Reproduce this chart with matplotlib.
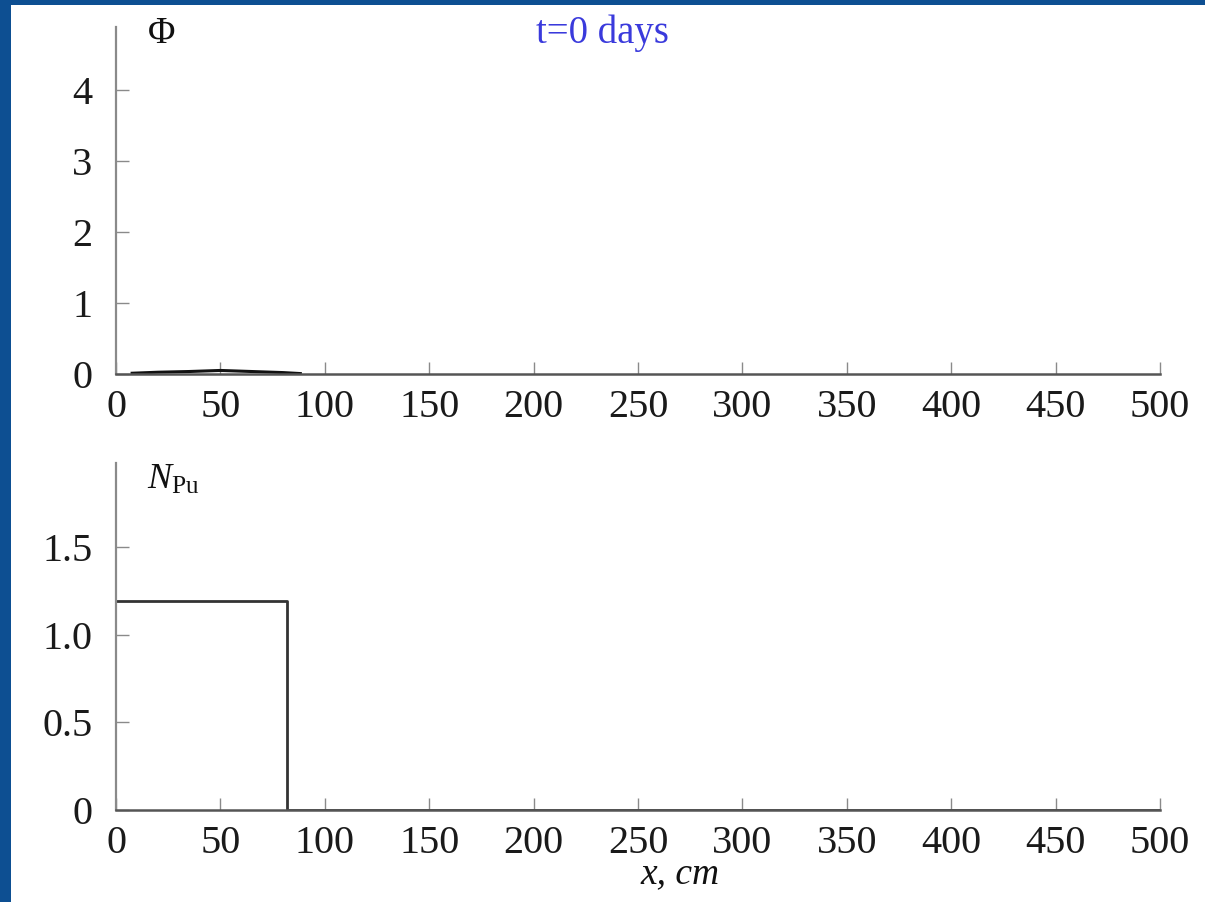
import matplotlib
matplotlib.use("Agg")
import matplotlib.pyplot as plt
from matplotlib.patches import Rectangle

# Neutron flux profile at t = 0 (small seed near the source)
phi_x = [7, 20, 35, 50, 65, 80, 89]
phi_y = [0.01, 0.025, 0.035, 0.05, 0.035, 0.02, 0.005]

# Plutonium concentration: uniform loading up to x = 82 cm
npu_x = [0, 82, 82, 500]
npu_y = [1.19, 1.19, 0.0, 0.0]

x_ticks = [0, 50, 100, 150, 200, 250, 300, 350, 400, 450, 500]
phi_ticks = [0, 1, 2, 3, 4]
npu_ticks = [0, 0.5, 1.0, 1.5]
npu_ticklabels = ["0", "0.5", "1.0", "1.5"]

plt.rcParams["font.family"] = ["Liberation Serif", "DejaVu Serif"]
plt.rcParams["mathtext.fontset"] = "custom"
plt.rcParams["mathtext.rm"] = "Liberation Serif"
plt.rcParams["mathtext.it"] = "Liberation Serif:italic"

W, H = 1205, 902
fig = plt.figure(figsize=(W / 100, H / 100), dpi=100)
fig.patch.set_facecolor("#0d4f92")
# white slide panel behind the plots
panel = Rectangle((11 / W, 0), 1 - 11 / W, 1 - 5 / H,
                  transform=fig.transFigure, facecolor="white",
                  edgecolor="none", zorder=-10)
fig.add_artist(panel)

L = 116 / W
Wd = (1160 - 116) / W
ax1 = fig.add_axes([L, 1 - 374 / H, Wd, (374 - 27) / H])
ax2 = fig.add_axes([L, 1 - 810 / H, Wd, (810 - 463) / H])

spine_c = "#8a8a8a"
for ax in (ax1, ax2):
    ax.set_facecolor("none")
    for s in ("top", "right"):
        ax.spines[s].set_visible(False)
    ax.spines["left"].set_color(spine_c)
    ax.spines["left"].set_linewidth(1.6)
    ax.spines["bottom"].set_color("#555555")
    ax.spines["bottom"].set_linewidth(1.8)
    ax.set_xlim(0, 500)
    ax.set_xticks(x_ticks)
    ax.tick_params(direction="in", length=9, width=1, color=spine_c,
                   labelsize=29, labelcolor="#1a1a1a")
    ax.tick_params(axis="x", pad=11)
    ax.tick_params(axis="y", pad=17)

ax1.plot(phi_x, phi_y, color="#111111", lw=2.2, solid_capstyle="butt")
ax1.set_ylim(0, 4.89)
ax1.set_yticks(phi_ticks)
ax1.text(0.03, 0.98, r"$\Phi$", transform=ax1.transAxes, fontsize=27,
         ha="left", va="center", color="#111111")

ax2.plot(npu_x, npu_y, color="#333333", lw=2.0)
ax2.set_ylim(0, 1.98)
ax2.set_yticks(npu_ticks)
ax2.set_yticklabels(npu_ticklabels)
ax2.text(0.03, 0.95, r"$N_{\mathrm{Pu}}$", transform=ax2.transAxes,
         fontsize=26, ha="left", va="center", color="#111111")

fig.text(602 / W, 1 - 33 / H, "t=0 days", color="#3a3adc", fontsize=28,
         ha="center", va="center")
fig.text(680 / W, 1 - 874 / H, "x, cm", fontsize=27, style="italic",
         ha="center", va="center", color="#111111")

fig.savefig("out.png", dpi=100, facecolor=fig.get_facecolor())
